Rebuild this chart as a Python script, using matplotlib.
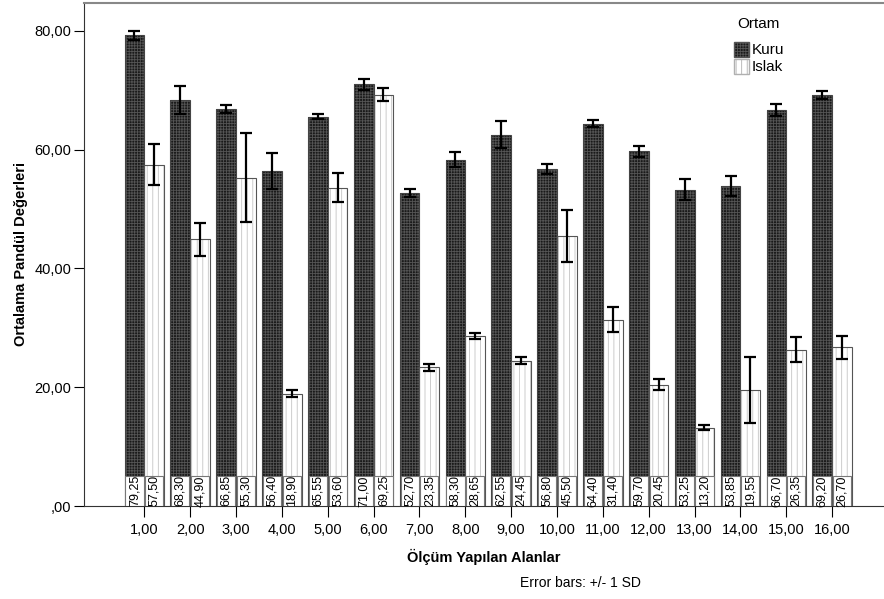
import numpy as np
import matplotlib
matplotlib.use("Agg")
from matplotlib import pyplot as plt
from matplotlib.patches import Patch

plt.rcParams['font.family'] = ['Liberation Sans Narrow', 'Liberation Sans', 'DejaVu Sans']

# data
alanlar = np.arange(1, 17)
tick_labels = ['%d,00' % i for i in alanlar]
kuru = [79.25, 68.30, 66.85, 56.40, 65.55, 71.00, 52.70, 58.30,
        62.55, 56.80, 64.40, 59.70, 53.25, 53.85, 66.70, 69.20]
islak = [57.50, 44.90, 55.30, 18.90, 53.60, 69.25, 23.35, 28.65,
         24.45, 45.50, 31.40, 20.45, 13.20, 19.55, 26.35, 26.70]
kuru_sd = [0.7, 2.35, 0.75, 3.1, 0.45, 0.9, 0.6, 1.25,
           2.2, 0.85, 0.6, 0.9, 1.75, 1.7, 1.0, 0.6]
islak_sd = [3.4, 2.8, 7.5, 0.6, 2.45, 1.1, 0.55, 0.5,
            0.6, 4.35, 2.1, 0.9, 0.42, 5.5, 2.05, 1.9]

w = 0.43
fig = plt.figure(figsize=(8.84, 5.99), dpi=100)
ax = fig.add_axes([84/884, 93/599, 800/884, 503/599])

plt.rcParams['hatch.linewidth'] = 0.6

def bars(x, h, sd, face, hatch, hcol, ecol):
    # pattern layer then outline layer
    ax.bar(x, h, w, color=face, hatch=hatch, edgecolor=hcol, linewidth=0, zorder=2)
    ax.bar(x, h, w, fill=False, edgecolor=ecol, linewidth=0.8, zorder=3)
    ax.errorbar(x, h, yerr=sd, fmt='none', ecolor='black', elinewidth=1.6,
                capsize=4.5, capthick=1.6, zorder=4)

bars(alanlar - w/2, kuru, kuru_sd, '#1a1a1a', '++++++', '#555555', '#444444')
bars(alanlar + w/2, islak, islak_sd, 'white', '|||', '#c4c4c4', '#555555')

# value boxes at the base of the bars
box_h = 5.1
for xs, vals in ((alanlar - w/2, kuru), (alanlar + w/2, islak)):
    ax.bar(xs, box_h, w * 0.92, color='white', edgecolor='#777777', linewidth=0.8, zorder=5)
    for x, v in zip(xs, vals):
        ax.text(x, box_h/2, ('%.2f' % v).replace('.', ','), rotation=90,
                ha='center', va='center', fontsize=9, zorder=6)

ax.set_xlim(-0.315, 17.13)
ax.set_ylim(0, 84.7)
ax.set_yticks([0, 20, 40, 60, 80])
ax.set_yticklabels([',00', '20,00', '40,00', '60,00', '80,00'], fontsize=10.5)
ax.set_xticks(alanlar)
ax.set_xticklabels(tick_labels, fontsize=10.5)
ax.tick_params(axis='x', length=8, width=0.8, pad=4)
ax.tick_params(axis='y', length=7, width=0.8, pad=2)
ax.spines['right'].set_visible(False)
ax.spines['top'].set_color('#888888')
ax.spines['top'].set_linewidth(1.5)
for s in ('left', 'bottom'):
    ax.spines[s].set_color('#333333')
    ax.spines[s].set_linewidth(0.8)

ax.set_xlabel('Ölçüm Yapılan Alanlar', fontsize=10.5, fontweight='bold')
ax.set_ylabel('Ortalama Pandül Değerleri', fontsize=10.5, fontweight='bold')
ax.xaxis.set_label_coords(0.5, -(549 - 506) / 503)
ax.yaxis.set_label_coords(-(84 - 28) / 800, 0.5)
fig.text(580/884, 1 - 583/599, 'Error bars: +/- 1 SD', ha='center', va='center', fontsize=10)

handles = [Patch(facecolor='#1a1a1a', hatch='++++++', edgecolor='#555555'),
           Patch(facecolor='white', hatch='|||', edgecolor='#b0b0b0')]
leg = fig.legend(handles, ['Kuru', 'Islak'], title='Ortam', loc='upper left',
                 bbox_to_anchor=(720/884, 1 - 3/599), frameon=False,
                 handlelength=1.0, handleheight=1.1, handletextpad=0.15,
                 labelspacing=0.1, fontsize=11, title_fontsize=11)
leg._legend_box.sep = 8

fig.savefig('out.png', dpi=100)
